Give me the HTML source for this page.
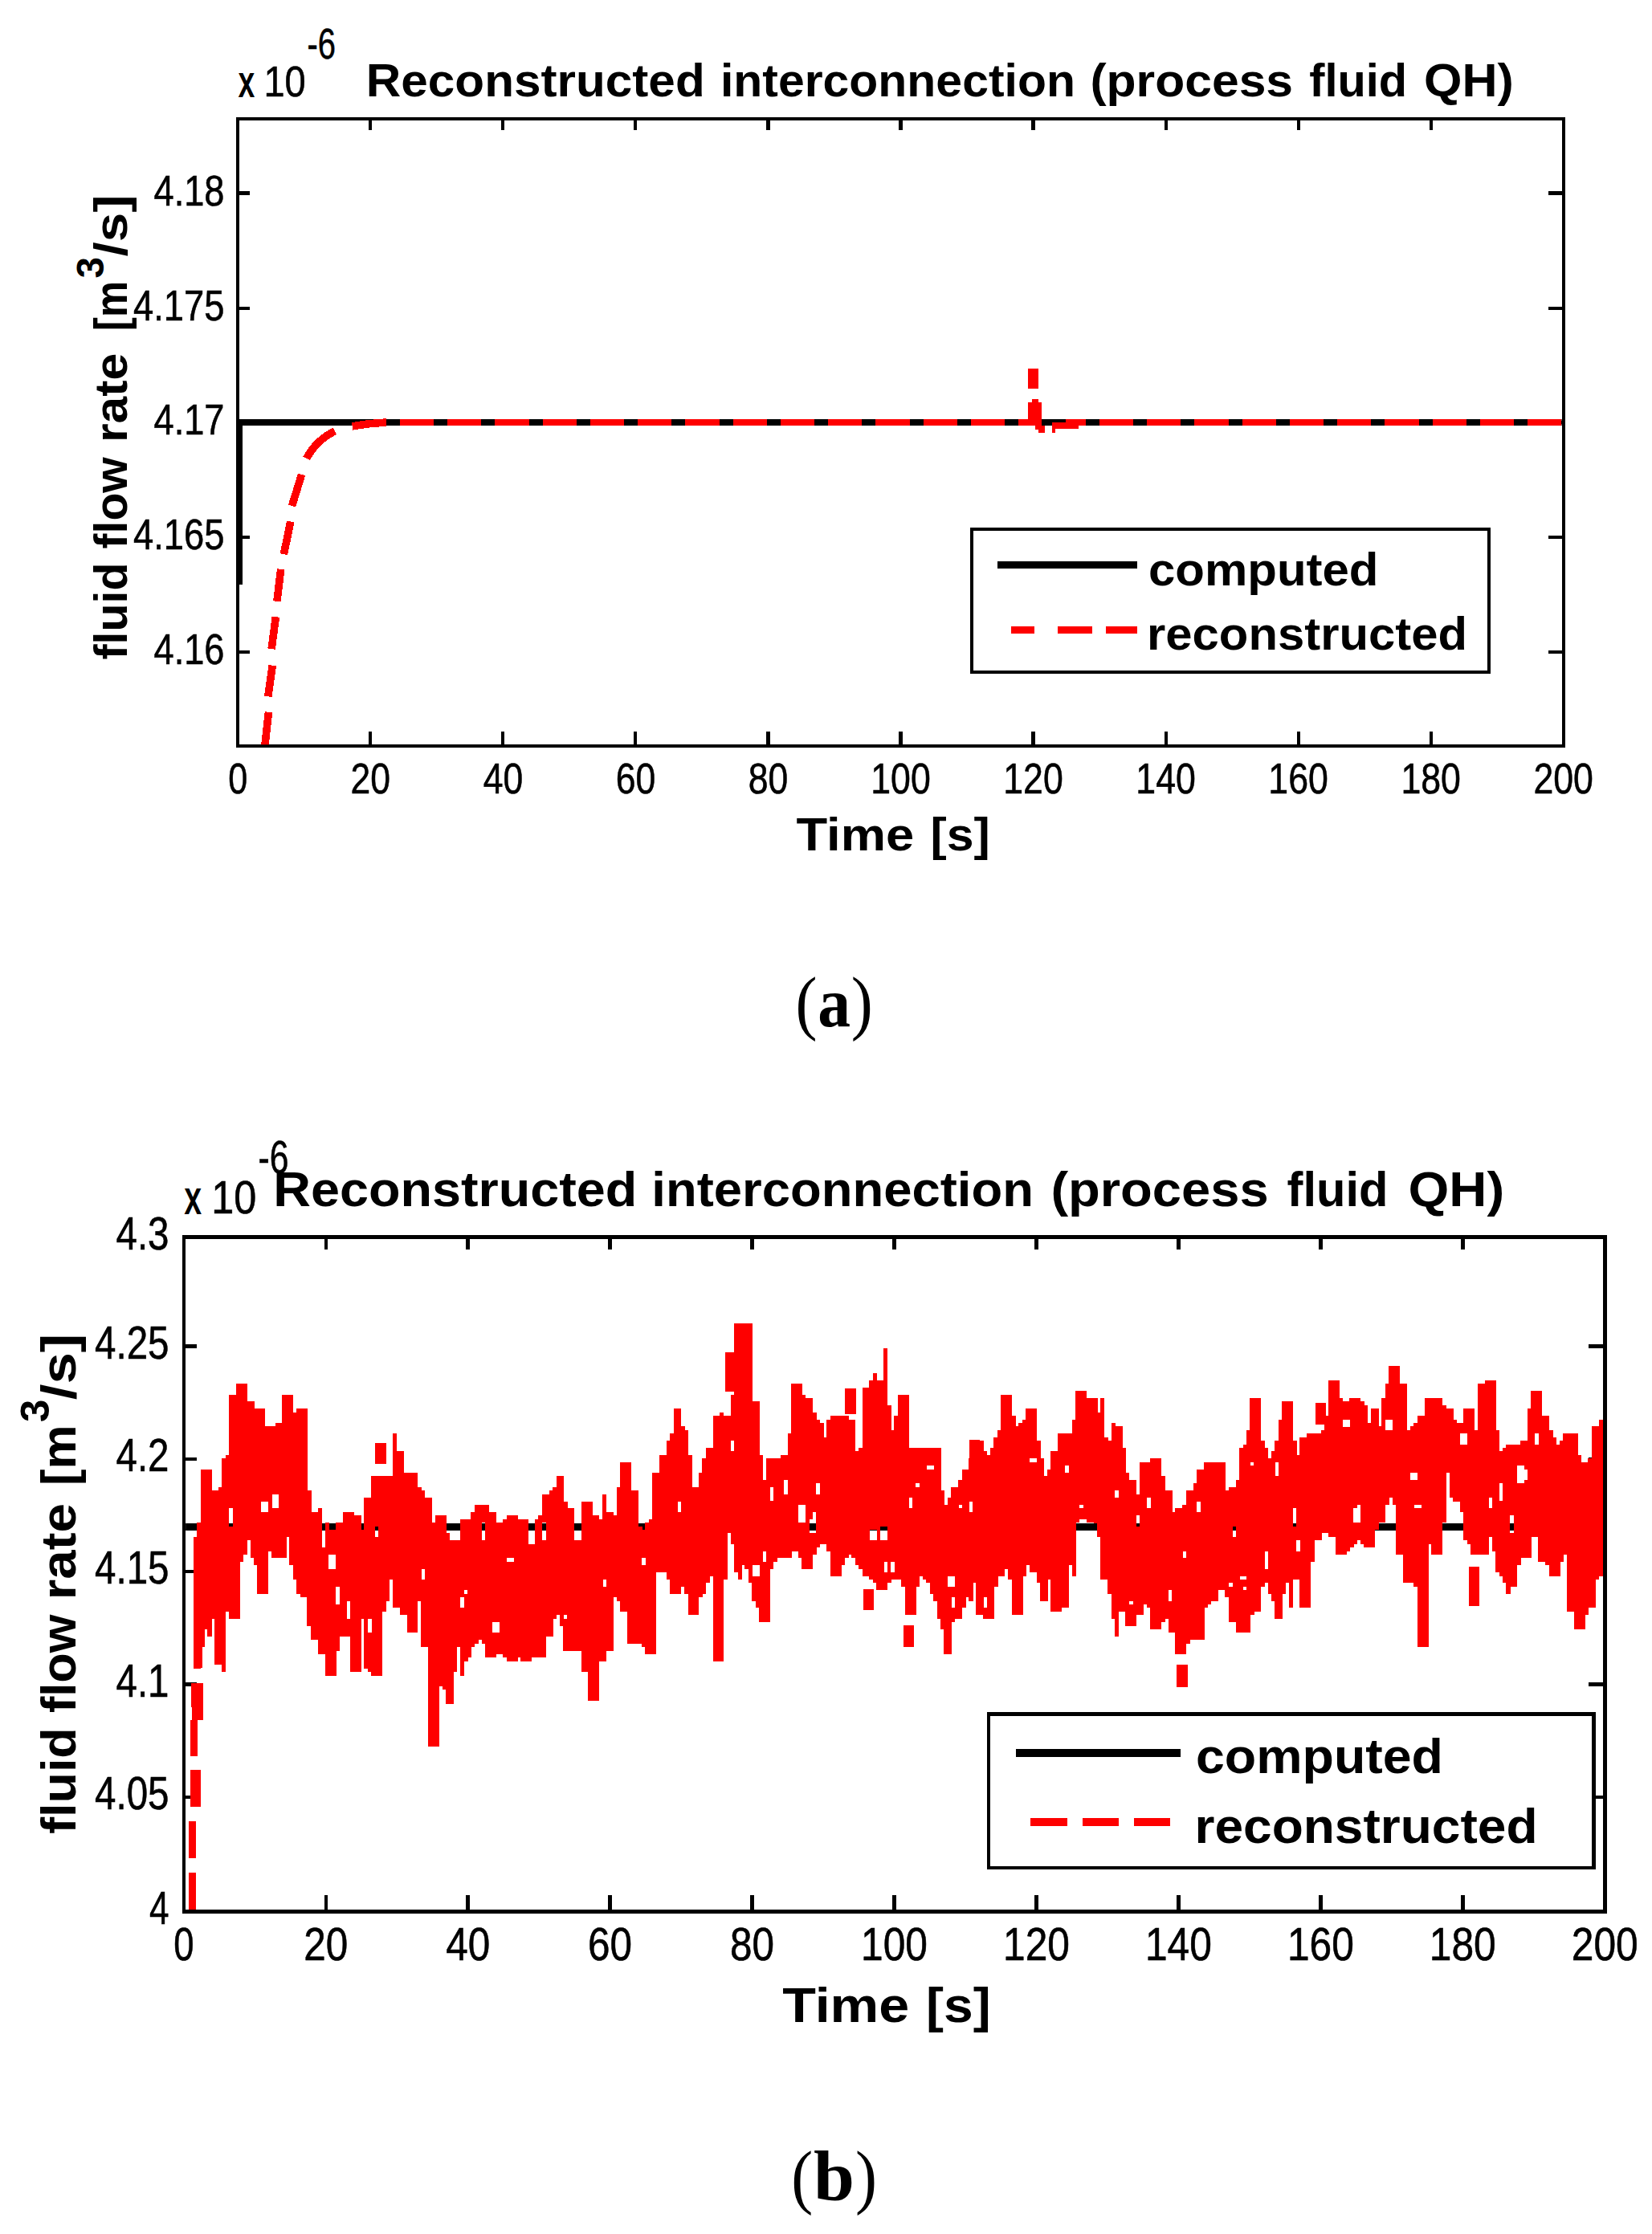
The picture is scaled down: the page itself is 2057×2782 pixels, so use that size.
<!DOCTYPE html>
<html lang="en"><head><meta charset="utf-8"><title>Reconstructed interconnection (process fluid QH)</title>
<style>
html,body{margin:0;padding:0;background:#fff;}
body{width:2057px;height:2782px;overflow:hidden;}
svg{display:block;}
.r{font-family:"Liberation Sans",Arial,Helvetica,sans-serif;font-weight:400;fill:#000;stroke:#000;stroke-width:0.6px;}
.b{font-family:"Liberation Sans",Arial,Helvetica,sans-serif;font-weight:700;fill:#000;}
.s{font-family:"Liberation Serif","Times New Roman",serif;fill:#000;}
.ax{fill:none;stroke:#000;}
</style></head><body>
<svg width="2057" height="2782" viewBox="0 0 2057 2782">
<rect x="0" y="0" width="2057" height="2782" fill="#fff"/>
<g id="plot-a" shape-rendering="crispEdges">
<rect class="ax" x="296.3" y="147.7" width="1650.4" height="781.5999999999999" stroke-width="4.1"/>
<path class="ax" d="M461.3 147.7v14.3M461.3 929.3v-18.5M626.4 147.7v14.3M626.4 929.3v-18.5M791.4 147.7v14.3M791.4 929.3v-18.5M956.5 147.7v14.3M956.5 929.3v-18.5M1121.5 147.7v14.3M1121.5 929.3v-18.5M1286.5 147.7v14.3M1286.5 929.3v-18.5M1451.6 147.7v14.3M1451.6 929.3v-18.5M1616.6 147.7v14.3M1616.6 929.3v-18.5M1781.7 147.7v14.3M1781.7 929.3v-18.5M296.3 240.5h14.8M1946.7 240.5h-18.8M296.3 383.8h14.8M1946.7 383.8h-18.8M296.3 669.0h14.8M1946.7 669.0h-18.8M296.3 811.7h14.8M1946.7 811.7h-18.8M296.3 526.0h14.8M1946.7 526.0h-18.8" stroke-width="4.1"/>
<clipPath id="c1"><rect x="294.25" y="149.75" width="1650.4" height="777.4999999999999"/></clipPath>
<g clip-path="url(#c1)">
<path d="M298.3 728 V526.0 H1946.7" fill="none" stroke="#000" stroke-width="8.3" stroke-linejoin="miter"/>
<path d="M329.6 931L334.5 886.8M333.8 867.4L339.3 828.7M338.1 808.1L343.4 768.1M344.9 748.8L349.7 708.8M353.4 690.2L361.8 649.5M363.5 630.1L375.6 590.9M381.7 570.8Q394 548 416.8 536.9M438.6 530.8Q460 527 481 526" fill="none" stroke="#fe0000" stroke-width="9.6"/>
<path d="M497.9 526.0H540.1M557.1 526.0H599.3M616.4 526.0H658.6M675.6 526.0H717.8M734.9 526.0H777.1M794.1 526.0H836.3M853.3 526.0H895.5M912.6 526.0H954.8M971.8 526.0H1014.0M1031.1 526.0H1073.3M1090.3 526.0H1132.5M1149.5 526.0H1191.7M1208.8 526.0H1251.0M1368.9 526.0H1411.1M1428.1 526.0H1470.3M1487.4 526.0H1529.6M1546.6 526.0H1588.8M1605.9 526.0H1648.1M1665.1 526.0H1707.3M1724.3 526.0H1766.5M1783.6 526.0H1825.8M1842.8 526.0H1885.0M1902.1 526.0H1944.3" fill="none" stroke="#fe0000" stroke-width="8.4"/>
<g fill="#fe0000">
<rect x="1267.9" y="521.8" width="16" height="8.4"/>
<rect x="1280.2" y="458.5" width="12.8" height="25.4"/>
<rect x="1284.5" y="497" width="8.5" height="6"/>
<rect x="1280.2" y="501" width="16.9" height="29"/>
<rect x="1288.8" y="526" width="8.3" height="8.5"/>
<rect x="1293" y="530" width="8.2" height="9"/>
<rect x="1309.8" y="526" width="33.6" height="8.4"/>
<rect x="1309.8" y="530" width="4.3" height="9"/>
<rect x="1326.8" y="521.8" width="25.3" height="8.4"/>
</g>
</g>
<rect x="1210.3" y="659.1" width="644.1" height="178.1" fill="#fff" stroke="#000" stroke-width="4.1"/>
<path d="M1241.9 703.5H1416.2" stroke="#000" stroke-width="9" fill="none"/>
<path d="M1258.5 784.3H1288.1M1317.3 784.3H1359.6M1377 784.3H1416.2" stroke="#fe0000" stroke-width="9" fill="none"/>
</g>
<g id="text-a">
<text class="b" y="119.7" font-size="58"><tspan x="455.8" textLength="421.9" lengthAdjust="spacingAndGlyphs">Reconstructed</tspan> <tspan x="896.9" textLength="442.0" lengthAdjust="spacingAndGlyphs">interconnection</tspan> <tspan x="1357.4" textLength="252.7" lengthAdjust="spacingAndGlyphs">(process</tspan> <tspan x="1630.2" textLength="121.9" lengthAdjust="spacingAndGlyphs">fluid</tspan> <tspan x="1773.0" textLength="111.8" lengthAdjust="spacingAndGlyphs">QH)</tspan></text>
<text class="r" y="119.7" font-size="54"><tspan x="297.8" textLength="18.3" lengthAdjust="spacingAndGlyphs" stroke-width="2">x</tspan> <tspan x="328.4" textLength="52.3" lengthAdjust="spacingAndGlyphs">10</tspan></text>
<text class="r" x="382.5" y="73.3" font-size="54" textLength="35.5" lengthAdjust="spacingAndGlyphs">-6</text>
<text class="r" x="296.3" y="988.0" font-size="54" text-anchor="middle" textLength="24.0" lengthAdjust="spacingAndGlyphs">0</text>
<text class="r" x="461.3" y="988.0" font-size="54" text-anchor="middle" textLength="49.5" lengthAdjust="spacingAndGlyphs">20</text>
<text class="r" x="626.4" y="988.0" font-size="54" text-anchor="middle" textLength="49.5" lengthAdjust="spacingAndGlyphs">40</text>
<text class="r" x="791.4" y="988.0" font-size="54" text-anchor="middle" textLength="49.5" lengthAdjust="spacingAndGlyphs">60</text>
<text class="r" x="956.5" y="988.0" font-size="54" text-anchor="middle" textLength="49.5" lengthAdjust="spacingAndGlyphs">80</text>
<text class="r" x="1121.5" y="988.0" font-size="54" text-anchor="middle" textLength="74.5" lengthAdjust="spacingAndGlyphs">100</text>
<text class="r" x="1286.5" y="988.0" font-size="54" text-anchor="middle" textLength="74.5" lengthAdjust="spacingAndGlyphs">120</text>
<text class="r" x="1451.6" y="988.0" font-size="54" text-anchor="middle" textLength="74.5" lengthAdjust="spacingAndGlyphs">140</text>
<text class="r" x="1616.6" y="988.0" font-size="54" text-anchor="middle" textLength="74.5" lengthAdjust="spacingAndGlyphs">160</text>
<text class="r" x="1781.7" y="988.0" font-size="54" text-anchor="middle" textLength="74.5" lengthAdjust="spacingAndGlyphs">180</text>
<text class="r" x="1946.7" y="988.0" font-size="54" text-anchor="middle" textLength="74.5" lengthAdjust="spacingAndGlyphs">200</text>
<text class="r" x="279.5" y="255.9" font-size="54" text-anchor="end" textLength="88.0" lengthAdjust="spacingAndGlyphs">4.18</text>
<text class="r" x="279.5" y="399.2" font-size="54" text-anchor="end" textLength="113.5" lengthAdjust="spacingAndGlyphs">4.175</text>
<text class="r" x="279.5" y="541.4" font-size="54" text-anchor="end" textLength="88.0" lengthAdjust="spacingAndGlyphs">4.17</text>
<text class="r" x="279.5" y="684.4" font-size="54" text-anchor="end" textLength="113.5" lengthAdjust="spacingAndGlyphs">4.165</text>
<text class="r" x="279.5" y="827.1" font-size="54" text-anchor="end" textLength="88.0" lengthAdjust="spacingAndGlyphs">4.16</text>
<text class="b" y="1058.6" font-size="58"><tspan x="991.6" textLength="146.6" lengthAdjust="spacingAndGlyphs">Time</tspan> <tspan x="1158.5" textLength="74.2" lengthAdjust="spacingAndGlyphs">[s]</tspan></text>
<text class="b" x="1430.0" y="729.4" font-size="58" textLength="286.5" lengthAdjust="spacingAndGlyphs">computed</text>
<text class="b" x="1428.0" y="808.7" font-size="58" textLength="399.0" lengthAdjust="spacingAndGlyphs">reconstructed</text>
<g transform="translate(157.5 821) rotate(-90)">
<text class="b" y="0" font-size="58"><tspan x="-0.5" textLength="120.9" lengthAdjust="spacingAndGlyphs">fluid</tspan> <tspan x="137.6" textLength="114.2" lengthAdjust="spacingAndGlyphs">flow</tspan> <tspan x="270.0" textLength="111.2" lengthAdjust="spacingAndGlyphs">rate</tspan> <tspan x="409.1" textLength="62.0" lengthAdjust="spacingAndGlyphs">[m</tspan><tspan x="474.5" dy="-29" font-size="47.6">3</tspan><tspan x="501.6" textLength="76.7" lengthAdjust="spacingAndGlyphs" dy="29">/s]</tspan></text>
</g>
<text class="s" font-size="88" y="1278"><tspan x="990.5" textLength="27" lengthAdjust="spacingAndGlyphs">(</tspan><tspan x="1018.3" font-weight="700" textLength="40.8" lengthAdjust="spacingAndGlyphs">a</tspan><tspan x="1059.8" textLength="27" lengthAdjust="spacingAndGlyphs">)</tspan></text>
</g>
<g id="plot-b" shape-rendering="crispEdges">
<rect class="ax" x="228.8" y="1540.4" width="1769.5" height="839.9000000000001" stroke-width="4.6"/>
<path class="ax" d="M405.8 1540.4v15.8M405.8 2380.3v-20.5M582.7 1540.4v15.8M582.7 2380.3v-20.5M759.6 1540.4v15.8M759.6 2380.3v-20.5M936.6 1540.4v15.8M936.6 2380.3v-20.5M1113.5 1540.4v15.8M1113.5 2380.3v-20.5M1290.5 1540.4v15.8M1290.5 2380.3v-20.5M1467.4 1540.4v15.8M1467.4 2380.3v-20.5M1644.4 1540.4v15.8M1644.4 2380.3v-20.5M1821.3 1540.4v15.8M1821.3 2380.3v-20.5M228.8 1676.5h16M1998.3 1676.5h-20.2M228.8 1817h16M1998.3 1817h-20.2M228.8 1957h16M1998.3 1957h-20.2M228.8 2097.5h16M1998.3 2097.5h-20.2M228.8 2238h16M1998.3 2238h-20.2" stroke-width="4.6"/>
<clipPath id="c2"><rect x="231.10000000000002" y="1542.7" width="1764.9" height="835.3000000000001"/></clipPath>
<g clip-path="url(#c2)">
<path d="M228.8 1901.3H1998.3" fill="none" stroke="#000" stroke-width="9.2"/>
<path d="M239.8 2380V2332M239.8 2313.6V2267.8M241.5 2250V2204M241.5 2187V2142M243 2126V2096M247 2077V2033" fill="none" stroke="#fe0000" stroke-width="9.2"/>
<path d="M243.5 2250V2204M246 2142V2096" fill="none" stroke="#fe0000" stroke-width="13.5"/>
<path d="M243.3 1913.8V2077.7M247.7 1896.0V2077.7M252.1 1829.6V2051.1M256.6 1829.6V2028.9M261.0 1829.6V2037.8M265.4 1856.2V2015.6M269.9 1856.2V2073.2M274.3 1851.7V2073.2M278.7 1816.3V2082.1M283.2 1811.9V2006.8M287.6 1736.6V2015.6M292.0 1736.6V2015.6M296.4 1723.3V2015.6M300.9 1723.3V1944.8M305.3 1723.3V1935.9M309.7 1745.4V1918.2M314.2 1745.4V1940.3M318.6 1754.3V1949.2M323.0 1754.3V1984.6M327.5 1754.3V1984.6M331.9 1776.4V1984.6M336.3 1776.4V1931.5M340.7 1776.4V1940.3M345.2 1772.0V1940.3M349.6 1772.0V1940.3M354.0 1736.6V1940.3M358.5 1736.6V1913.8M362.9 1736.6V1949.2M367.3 1758.7V1966.9M371.8 1754.3V1984.6M376.2 1754.3V1989.1M380.6 1754.3V1989.1M385.0 1856.2V2024.5M389.5 1882.7V2042.2M393.9 1882.7V2042.2M398.3 1878.3V2059.9M402.8 1927.0V2059.9M407.2 1896.0V2086.5M411.6 1904.9V2086.5M416.1 1904.9V2086.5M420.5 1896.0V2055.5M424.9 1896.0V2037.8M429.3 1882.7V2037.8M433.8 1882.7V2037.8M438.2 1882.7V2082.1M442.6 1887.2V2082.1M447.1 1887.2V2082.1M451.5 1904.9V2015.6M455.9 1865.0V2077.7M460.4 1865.0V2082.1M464.8 1838.4V2086.5M469.2 1838.4V2086.5M473.6 1838.4V2086.5M478.1 1838.4V2006.8M482.5 1838.4V1993.5M486.9 1838.4V1966.9M491.4 1785.3V2002.4M495.8 1807.4V2002.4M500.2 1807.4V2011.2M504.7 1834.0V2011.2M509.1 1834.0V2033.4M513.5 1834.0V2033.4M517.9 1834.0V2033.4M522.4 1851.7V1993.5M526.8 1856.2V2051.1M531.2 1865.0V2051.1M535.7 1865.0V2175.1M540.1 1896.0V2175.1M544.5 1887.2V2175.1M549.0 1887.2V2099.8M553.4 1887.2V2104.2M557.8 1909.3V2122.0M562.2 1918.2V2122.0M566.7 1918.2V2082.1M571.1 1918.2V2051.1M575.5 1891.6V2086.5M580.0 1891.6V2068.8M584.4 1891.6V2064.4M588.8 1882.7V2051.1M593.3 1873.9V2046.7M597.7 1873.9V2042.2M602.1 1873.9V2046.7M606.5 1873.9V2064.4M611.0 1882.7V2064.4M615.4 1882.7V2064.4M619.8 1896.0V2059.9M624.3 1896.0V2059.9M628.7 1891.6V2064.4M633.1 1887.2V2068.8M637.6 1887.2V2068.8M642.0 1887.2V2068.8M646.4 1891.6V2064.4M650.8 1891.6V2068.8M655.3 1891.6V2068.8M659.7 1922.6V2068.8M664.1 1922.6V2064.4M668.6 1891.6V2064.4M673.0 1887.2V2064.4M677.4 1860.6V2064.4M681.9 1860.6V2037.8M686.3 1856.2V2037.8M690.7 1851.7V2015.6M695.1 1838.4V2011.2M699.6 1838.4V2024.5M704.0 1869.5V2055.5M708.4 1878.3V2055.5M712.9 1878.3V2055.5M717.3 1918.2V2055.5M721.7 1918.2V2055.5M726.2 1869.5V2082.1M730.6 1869.5V2082.1M735.0 1869.5V2117.5M739.4 1887.2V2117.5M743.9 1887.2V2117.5M748.3 1891.6V2068.8M752.7 1860.6V2068.8M757.2 1882.8V2055.5M761.6 1882.8V2055.5M766.0 1887.2V1989.1M770.5 1851.7V1993.5M774.9 1820.7V2006.8M779.3 1820.7V2006.8M783.7 1820.7V2046.7M788.2 1856.2V2046.7M792.6 1856.2V2046.7M797.0 1900.5V2046.7M801.5 1904.9V2051.1M805.9 1896.0V2059.9M810.3 1891.6V2059.9M814.8 1834.0V2059.9M819.2 1834.0V1958.1M823.6 1811.9V1958.1M828.0 1811.9V1958.1M832.5 1794.1V1966.9M836.9 1785.3V1984.6M841.3 1754.3V1984.6M845.8 1754.3V1984.6M850.2 1776.4V1975.8M854.6 1780.9V1984.6M859.1 1811.9V2011.2M863.5 1851.7V2011.2M867.9 1851.7V2011.2M872.3 1834.0V1989.1M876.8 1816.3V1984.6M881.2 1803.0V1971.3M885.6 1803.0V1962.5M890.1 1763.1V2068.8M894.5 1763.1V2068.8M898.9 1758.7V2068.8M903.4 1763.1V1966.9M907.8 1763.1V1909.3M912.2 1736.6V1922.6M916.6 1648.0V1958.1M921.1 1648.0V1966.9M925.5 1648.0V1949.2M929.9 1648.0V1953.6M934.4 1648.0V1971.3M938.8 1745.4V1993.5M943.2 1745.4V2002.4M947.7 1811.9V2020.1M952.1 1842.9V2020.1M956.5 1816.3V2020.1M960.9 1816.3V1953.6M965.4 1816.3V1944.8M969.8 1816.3V1940.3M974.2 1811.9V1940.3M978.7 1811.9V1940.3M983.1 1785.3V1940.3M987.5 1723.3V1931.5M992.0 1723.3V1931.5M996.4 1723.3V1940.3M1000.8 1736.6V1953.6M1005.2 1741.0V1953.6M1009.7 1741.0V1953.6M1014.1 1758.7V1935.9M1018.5 1767.6V1927.0M1023.0 1772.0V1922.6M1027.4 1789.7V1922.6M1031.8 1767.6V1931.5M1036.3 1763.1V1962.5M1040.7 1763.1V1962.5M1045.1 1763.1V1962.5M1049.5 1763.1V1949.2M1054.0 1763.1V1940.3M1058.4 1767.6V1935.9M1062.8 1767.6V1940.3M1067.3 1807.4V1949.2M1071.7 1803.0V1953.6M1076.1 1727.7V1962.5M1080.6 1727.7V1962.5M1085.0 1718.8V1966.9M1089.4 1710.0V1971.3M1093.8 1718.8V1980.2M1098.3 1718.8V1980.2M1102.7 1679.0V1980.2M1107.1 1749.8V1971.3M1111.6 1780.9V1966.9M1116.0 1763.1V1966.9M1120.4 1736.6V1966.9M1124.9 1736.6V1975.8M1129.3 1736.6V2011.2M1133.7 1803.0V2011.2M1138.1 1803.0V2011.2M1142.6 1803.0V1975.8M1147.0 1803.0V1962.5M1151.4 1803.0V1966.9M1155.9 1803.0V1971.3M1160.3 1803.0V1984.6M1164.7 1803.0V1993.5M1169.2 1803.0V2015.6M1173.6 1856.2V2028.9M1178.0 1873.9V2059.9M1182.4 1865.0V2059.9M1186.9 1851.7V2020.1M1191.3 1851.7V2015.6M1195.7 1842.9V2015.6M1200.2 1829.6V2002.4M1204.6 1829.6V1989.1M1209.0 1816.3V1993.5M1213.5 1794.1V1971.3M1217.9 1794.1V2011.2M1222.3 1794.1V2011.2M1226.7 1807.4V2015.6M1231.2 1811.9V2015.6M1235.6 1803.0V2015.6M1240.0 1789.7V1975.8M1244.5 1780.9V1962.5M1248.9 1736.6V1962.5M1253.3 1736.6V1953.6M1257.8 1736.6V1966.9M1262.2 1763.1V2011.2M1266.6 1776.4V2011.2M1271.0 1772.0V2011.2M1275.5 1767.6V1962.5M1279.9 1754.3V1949.2M1284.3 1754.3V1958.1M1288.8 1754.3V1958.1M1293.2 1794.1V1971.3M1297.6 1816.3V1993.5M1302.1 1838.4V1993.5M1306.5 1829.6V1966.9M1310.9 1807.4V2006.8M1315.3 1807.4V2006.8M1319.8 1785.3V2006.8M1324.2 1785.3V2002.4M1328.6 1785.3V2002.4M1333.1 1785.3V1949.2M1337.5 1767.6V1962.5M1341.9 1732.1V1896.0M1346.4 1732.1V1891.6M1350.8 1732.1V1891.6M1355.2 1741.0V1896.0M1359.6 1741.0V1896.0M1364.1 1741.0V1896.5M1368.5 1758.7V1913.8M1372.9 1741.0V1966.9M1377.4 1789.7V1966.9M1381.8 1794.1V1984.6M1386.2 1772.0V2015.6M1390.7 1776.4V2037.8M1395.1 1776.4V2006.8M1399.5 1803.0V2006.8M1403.9 1834.0V2024.5M1408.4 1842.9V2024.5M1412.8 1842.9V2024.5M1417.2 1860.6V2011.2M1421.7 1820.7V2011.2M1426.1 1820.7V1997.9M1430.5 1820.7V2002.4M1435.0 1816.3V2028.9M1439.4 1816.3V2028.9M1443.8 1816.3V2028.9M1448.2 1838.4V2020.1M1452.7 1856.2V2015.6M1457.1 1856.2V2033.4M1461.5 1882.7V2033.4M1466.0 1878.3V2059.9M1470.4 1878.3V2059.9M1474.8 1873.9V2059.9M1479.3 1856.2V2046.7M1483.7 1856.2V2042.2M1488.1 1847.3V2042.2M1492.5 1829.6V2042.2M1497.0 1829.6V2042.2M1501.4 1820.7V2002.4M1505.8 1820.7V1997.9M1510.3 1820.7V1993.5M1514.7 1820.7V1993.5M1519.1 1820.7V1980.2M1523.6 1820.7V1980.2M1528.0 1856.2V1989.1M1532.4 1851.7V2020.1M1536.8 1851.7V2020.1M1541.3 1842.9V2033.4M1545.7 1803.0V2033.4M1550.1 1798.6V2033.4M1554.6 1780.9V2033.4M1559.0 1741.0V2011.2M1563.4 1741.0V2006.8M1567.9 1741.0V2006.8M1572.3 1794.1V1975.8M1576.7 1803.0V1971.3M1581.1 1816.3V1984.6M1585.6 1807.4V1993.5M1590.0 1794.2V2015.6M1594.4 1767.6V2015.6M1598.9 1745.4V1984.6M1603.3 1745.4V1971.3M1607.7 1745.4V2002.4M1612.2 1794.1V1966.9M1616.6 1811.9V1966.9M1621.0 1789.7V2002.4M1625.4 1789.7V2002.4M1629.9 1785.3V2002.4M1634.3 1785.3V1944.8M1638.7 1785.3V1918.2M1643.2 1785.3V1918.2M1647.6 1780.9V1909.3M1652.0 1763.1V1909.3M1656.5 1718.8V1913.8M1660.9 1718.8V1913.8M1665.3 1718.8V1935.9M1669.7 1741.0V1935.9M1674.2 1745.4V1935.9M1678.6 1745.4V1931.5M1683.0 1741.0V1927.0M1687.5 1741.0V1922.6M1691.9 1741.0V1918.2M1696.3 1745.4V1922.6M1700.8 1749.8V1927.0M1705.2 1772.0V1927.0M1709.6 1754.3V1927.0M1714.0 1754.3V1904.9M1718.5 1776.4V1896.0M1722.9 1741.0V1896.0M1727.3 1723.3V1873.9M1731.8 1701.1V1865.0M1736.2 1701.1V1873.9M1740.6 1701.1V1935.9M1745.1 1723.3V1935.9M1749.5 1723.3V1971.3M1753.9 1780.9V1971.3M1758.3 1776.4V1971.3M1762.8 1772.0V1975.8M1767.2 1763.1V2051.1M1771.6 1763.1V2051.1M1776.1 1741.0V2051.1M1780.5 1741.0V1922.6M1784.9 1741.0V1935.9M1789.4 1741.0V1935.9M1793.8 1741.0V1935.9M1798.2 1749.8V1896.0M1802.6 1754.3V1834.0M1807.1 1754.3V1865.0M1811.5 1767.6V1869.5M1815.9 1772.0V1869.5M1820.4 1772.0V1882.7M1824.8 1754.3V1918.2M1829.2 1754.3V1922.6M1833.7 1754.3V1935.9M1838.1 1780.9V1935.9M1842.5 1723.3V1935.9M1846.9 1723.3V1935.9M1851.4 1718.8V1935.9M1855.8 1718.8V1913.8M1860.2 1718.8V1931.5M1864.7 1780.9V1958.1M1869.1 1807.4V1962.5M1873.5 1803.0V1971.3M1878.0 1798.6V1984.6M1882.4 1798.6V1975.8M1886.8 1798.6V1975.8M1891.2 1798.6V1949.2M1895.7 1794.2V1940.3M1900.1 1794.2V1940.3M1904.5 1754.3V1940.3M1909.0 1732.1V1913.8M1913.4 1732.1V1913.8M1917.8 1732.1V1944.8M1922.3 1763.1V1944.8M1926.7 1763.1V1949.2M1931.1 1780.9V1962.5M1935.5 1789.7V1962.5M1940.0 1798.6V1962.5M1944.4 1794.1V1944.8M1948.8 1785.3V1935.9M1953.3 1785.3V2006.8M1957.7 1785.3V2006.8M1962.1 1785.3V2028.9M1966.6 1811.9V2028.9M1971.0 1820.7V2028.9M1975.4 1820.7V2011.2M1979.8 1816.3V2002.4M1984.3 1776.4V2002.4M1988.7 1776.4V1966.9M1993.1 1767.6V1962.5M1997.6 1767.6V1918.2" fill="none" stroke="#fe0000" stroke-width="5.03"/>
<g fill="#fff"><rect x="285.4" y="1878.3" width="4.4" height="22.1"/><rect x="325.2" y="1869.5" width="8.9" height="13.3"/><rect x="338.5" y="1860.6" width="8.9" height="17.7"/><rect x="409.4" y="1935.9" width="8.9" height="17.7"/><rect x="418.3" y="1975.8" width="4.4" height="22.1"/><rect x="431.6" y="1993.5" width="4.4" height="22.1"/><rect x="458.1" y="2015.6" width="4.4" height="17.7"/><rect x="467.0" y="1900.5" width="4.4" height="13.3"/><rect x="524.6" y="1953.6" width="4.4" height="13.3"/><rect x="573.3" y="1989.1" width="4.4" height="13.3"/><rect x="577.7" y="1980.2" width="4.4" height="4.4"/><rect x="599.9" y="1896.0" width="4.4" height="22.1"/><rect x="613.2" y="2020.1" width="4.4" height="13.3"/><rect x="617.6" y="2020.1" width="4.4" height="13.3"/><rect x="630.9" y="1940.3" width="8.9" height="4.4"/><rect x="675.2" y="1896.0" width="4.4" height="22.1"/><rect x="701.8" y="2011.2" width="4.4" height="4.4"/><rect x="750.5" y="1966.9" width="4.4" height="8.9"/><rect x="799.2" y="1940.3" width="4.4" height="8.9"/><rect x="843.5" y="1869.5" width="4.4" height="13.3"/><rect x="910.0" y="1794.1" width="4.4" height="13.3"/><rect x="936.6" y="1949.2" width="8.9" height="13.3"/><rect x="949.9" y="1931.5" width="4.4" height="13.3"/><rect x="958.7" y="1851.7" width="4.4" height="17.7"/><rect x="976.4" y="1842.9" width="4.4" height="17.7"/><rect x="994.2" y="1873.9" width="8.9" height="22.1"/><rect x="1007.5" y="1891.6" width="8.9" height="17.7"/><rect x="1011.9" y="1882.7" width="4.4" height="17.7"/><rect x="1016.3" y="1847.3" width="4.4" height="13.3"/><rect x="1082.8" y="1904.9" width="8.9" height="13.3"/><rect x="1096.1" y="1900.5" width="8.9" height="17.7"/><rect x="1100.5" y="1944.8" width="4.4" height="13.3"/><rect x="1109.3" y="1944.8" width="4.4" height="13.3"/><rect x="1131.5" y="1865.0" width="4.4" height="13.3"/><rect x="1140.4" y="1847.3" width="4.4" height="4.4"/><rect x="1153.6" y="1825.2" width="8.9" height="4.4"/><rect x="1180.2" y="1962.5" width="8.9" height="13.3"/><rect x="1184.7" y="1989.1" width="4.4" height="13.3"/><rect x="1193.5" y="1873.9" width="4.4" height="4.4"/><rect x="1206.8" y="1869.5" width="4.4" height="13.3"/><rect x="1224.5" y="1989.1" width="4.4" height="13.3"/><rect x="1282.1" y="1816.3" width="8.9" height="4.4"/><rect x="1326.4" y="1825.2" width="4.4" height="8.9"/><rect x="1344.1" y="1873.9" width="4.4" height="4.4"/><rect x="1388.4" y="1856.2" width="4.4" height="8.9"/><rect x="1406.2" y="1993.5" width="4.4" height="4.4"/><rect x="1415.0" y="1887.2" width="4.4" height="13.3"/><rect x="1428.3" y="1865.0" width="4.4" height="13.3"/><rect x="1454.9" y="1980.2" width="4.4" height="13.3"/><rect x="1472.6" y="1931.5" width="4.4" height="8.9"/><rect x="1490.3" y="1869.5" width="4.4" height="13.3"/><rect x="1530.2" y="1971.3" width="4.4" height="4.4"/><rect x="1534.6" y="1900.5" width="4.4" height="13.3"/><rect x="1543.5" y="1962.5" width="8.9" height="4.4"/><rect x="1547.9" y="1975.8" width="4.4" height="4.4"/><rect x="1556.8" y="1820.7" width="4.4" height="4.4"/><rect x="1574.5" y="1931.5" width="4.4" height="22.1"/><rect x="1587.8" y="1820.7" width="4.4" height="17.7"/><rect x="1609.9" y="1878.3" width="4.4" height="22.1"/><rect x="1614.4" y="1918.2" width="4.4" height="13.3"/><rect x="1672.0" y="1767.6" width="8.9" height="8.9"/><rect x="1685.2" y="1878.3" width="8.9" height="17.7"/><rect x="1689.7" y="1873.9" width="4.4" height="8.9"/><rect x="1725.1" y="1767.6" width="8.9" height="13.3"/><rect x="1756.1" y="1834.0" width="8.9" height="8.9"/><rect x="1760.6" y="1873.9" width="8.9" height="4.4"/><rect x="1818.1" y="1785.3" width="8.9" height="13.3"/><rect x="1853.6" y="1865.0" width="4.4" height="13.3"/><rect x="1866.9" y="1847.3" width="4.4" height="22.1"/><rect x="1880.2" y="1887.2" width="4.4" height="22.1"/><rect x="1889.0" y="1825.2" width="8.9" height="22.1"/><rect x="1897.9" y="1829.6" width="4.4" height="13.3"/><rect x="1911.2" y="1785.3" width="4.4" height="13.3"/></g>
<g fill="#000"><rect x="285.4" y="1896.7" width="4.4" height="3.8"/><rect x="467.0" y="1900.5" width="4.4" height="5.4"/><rect x="599.9" y="1896.7" width="4.4" height="9.2"/><rect x="675.2" y="1896.7" width="4.4" height="9.2"/><rect x="1007.5" y="1896.7" width="8.9" height="9.2"/><rect x="1011.9" y="1896.7" width="4.4" height="3.8"/><rect x="1082.8" y="1904.9" width="8.9" height="1.0"/><rect x="1096.1" y="1900.5" width="8.9" height="5.4"/><rect x="1415.0" y="1896.7" width="4.4" height="3.8"/><rect x="1534.6" y="1900.5" width="4.4" height="5.4"/><rect x="1609.9" y="1896.7" width="4.4" height="3.8"/><rect x="1880.2" y="1896.7" width="4.4" height="9.2"/></g>
<g fill="#fe0000">
<rect x="467.1" y="1797" width="13.6" height="26"/>
<rect x="902.6" y="1684.2" width="13.2" height="48.3"/>
<rect x="1052.3" y="1729" width="13.6" height="31.5"/>
<rect x="1074.9" y="1978.9" width="13.2" height="26.5"/>
<rect x="1125" y="2024.3" width="13.3" height="26.2"/>
<rect x="1207.4" y="1792.7" width="12.5" height="29.3"/>
<rect x="1464.9" y="2073.4" width="14" height="27.2"/>
<rect x="1637.5" y="1746.8" width="13.3" height="27.6"/>
<rect x="1828.9" y="1950.9" width="13.3" height="49.4"/>
</g>
</g>
<rect x="1230.8" y="2134.5" width="753.9" height="191.5" fill="#fff" stroke="#000" stroke-width="4.6"/>
<path d="M1264.8 2182.5H1469.7" stroke="#000" stroke-width="10" fill="none"/>
<path d="M1283 2268.6H1328.6M1347.8 2268.6H1393M1411.7 2268.6H1456.8" stroke="#fe0000" stroke-width="10" fill="none"/>
</g>
<g id="text-b">
<text class="b" y="1501.7" font-size="62"><tspan x="340.2" textLength="453.1" lengthAdjust="spacingAndGlyphs">Reconstructed</tspan> <tspan x="811.3" textLength="475.6" lengthAdjust="spacingAndGlyphs">interconnection</tspan> <tspan x="1308.4" textLength="271.2" lengthAdjust="spacingAndGlyphs">(process</tspan> <tspan x="1602.6" textLength="126.0" lengthAdjust="spacingAndGlyphs">fluid</tspan> <tspan x="1753.5" textLength="119.7" lengthAdjust="spacingAndGlyphs">QH)</tspan></text>
<text class="r" y="1510.9" font-size="56.5"><tspan x="230.5" textLength="19.4" lengthAdjust="spacingAndGlyphs" stroke-width="2">x</tspan> <tspan x="263.2" textLength="56.1" lengthAdjust="spacingAndGlyphs">10</tspan></text>
<text class="r" x="321.5" y="1461.0" font-size="56.5" textLength="38.0" lengthAdjust="spacingAndGlyphs">-6</text>
<text class="r" x="228.8" y="2441.0" font-size="56.5" text-anchor="middle" textLength="25.3" lengthAdjust="spacingAndGlyphs">0</text>
<text class="r" x="405.8" y="2441.0" font-size="56.5" text-anchor="middle" textLength="55.0" lengthAdjust="spacingAndGlyphs">20</text>
<text class="r" x="582.7" y="2441.0" font-size="56.5" text-anchor="middle" textLength="55.0" lengthAdjust="spacingAndGlyphs">40</text>
<text class="r" x="759.6" y="2441.0" font-size="56.5" text-anchor="middle" textLength="55.0" lengthAdjust="spacingAndGlyphs">60</text>
<text class="r" x="936.6" y="2441.0" font-size="56.5" text-anchor="middle" textLength="55.0" lengthAdjust="spacingAndGlyphs">80</text>
<text class="r" x="1113.5" y="2441.0" font-size="56.5" text-anchor="middle" textLength="83.0" lengthAdjust="spacingAndGlyphs">100</text>
<text class="r" x="1290.5" y="2441.0" font-size="56.5" text-anchor="middle" textLength="83.0" lengthAdjust="spacingAndGlyphs">120</text>
<text class="r" x="1467.4" y="2441.0" font-size="56.5" text-anchor="middle" textLength="83.0" lengthAdjust="spacingAndGlyphs">140</text>
<text class="r" x="1644.4" y="2441.0" font-size="56.5" text-anchor="middle" textLength="83.0" lengthAdjust="spacingAndGlyphs">160</text>
<text class="r" x="1821.3" y="2441.0" font-size="56.5" text-anchor="middle" textLength="83.0" lengthAdjust="spacingAndGlyphs">180</text>
<text class="r" x="1998.3" y="2441.0" font-size="56.5" text-anchor="middle" textLength="83.0" lengthAdjust="spacingAndGlyphs">200</text>
<text class="r" x="210.5" y="1555.8" font-size="56.5" text-anchor="end" textLength="66.0" lengthAdjust="spacingAndGlyphs">4.3</text>
<text class="r" x="210.5" y="1691.9" font-size="56.5" text-anchor="end" textLength="92.5" lengthAdjust="spacingAndGlyphs">4.25</text>
<text class="r" x="210.5" y="1832.4" font-size="56.5" text-anchor="end" textLength="66.0" lengthAdjust="spacingAndGlyphs">4.2</text>
<text class="r" x="210.5" y="1972.4" font-size="56.5" text-anchor="end" textLength="92.5" lengthAdjust="spacingAndGlyphs">4.15</text>
<text class="r" x="210.5" y="2112.9" font-size="56.5" text-anchor="end" textLength="66.0" lengthAdjust="spacingAndGlyphs">4.1</text>
<text class="r" x="210.5" y="2253.4" font-size="56.5" text-anchor="end" textLength="92.5" lengthAdjust="spacingAndGlyphs">4.05</text>
<text class="r" x="210.5" y="2395.7" font-size="56.5" text-anchor="end" textLength="24.5" lengthAdjust="spacingAndGlyphs">4</text>
<text class="b" y="2517.7" font-size="62"><tspan x="974.2" textLength="158.1" lengthAdjust="spacingAndGlyphs">Time</tspan> <tspan x="1153.0" textLength="80.6" lengthAdjust="spacingAndGlyphs">[s]</tspan></text>
<text class="b" x="1489.0" y="2207.9" font-size="62" textLength="308.0" lengthAdjust="spacingAndGlyphs">computed</text>
<text class="b" x="1487.5" y="2294.5" font-size="62" textLength="427.0" lengthAdjust="spacingAndGlyphs">reconstructed</text>
<g transform="translate(94 2283) rotate(-90)">
<text class="b" y="0" font-size="62"><tspan x="-0.8" textLength="132.5" lengthAdjust="spacingAndGlyphs">fluid</tspan> <tspan x="149.9" textLength="122.4" lengthAdjust="spacingAndGlyphs">flow</tspan> <tspan x="290.8" textLength="120.1" lengthAdjust="spacingAndGlyphs">rate</tspan> <tspan x="432.9" textLength="75.7" lengthAdjust="spacingAndGlyphs">[m</tspan><tspan x="512" dy="-33" font-size="50.8">3</tspan><tspan x="539.8" textLength="82.6" lengthAdjust="spacingAndGlyphs" dy="33">/s]</tspan></text>
</g>
<text class="s" font-size="88" y="2740.2"><tspan x="985.2" textLength="27" lengthAdjust="spacingAndGlyphs">(</tspan><tspan x="1013" font-weight="700" textLength="51" lengthAdjust="spacingAndGlyphs">b</tspan><tspan x="1065" textLength="27" lengthAdjust="spacingAndGlyphs">)</tspan></text>
</g>
</svg></body></html>
